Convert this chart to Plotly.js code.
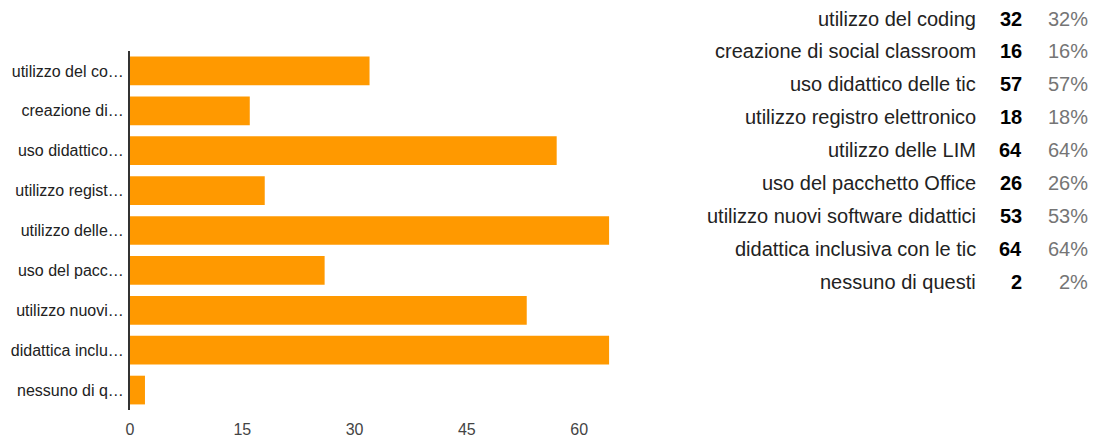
<!DOCTYPE html>
<html><head><meta charset="utf-8">
<script src="https://cdn.plot.ly/plotly-3.0.1.min.js"></script>
<style>body{margin:0;padding:0;background:#fff}#chart{width:1093px;height:441px}</style>
</head><body><div id="chart"></div>
<script>
const categories = ["utilizzo del coding","creazione di social classroom","uso didattico delle tic","utilizzo registro elettronico","utilizzo delle LIM","uso del pacchetto Office","utilizzo nuovi software didattici","didattica inclusiva con le tic","nessuno di questi"];
const tickLabels = ["utilizzo del co…","creazione di…","uso didattico…","utilizzo regist…","utilizzo delle…","uso del pacc…","utilizzo nuovi…","didattica inclu…","nessuno di q…"];
const counts = [32,16,57,18,64,26,53,64,2];
const percents = ["32%","16%","57%","18%","64%","26%","53%","64%","2%"];
const xTicks = [0,15,30,45,60];

const W=1093,H=441,L=130,T=50.5,B=30.5,R=439.4;
const plotW=W-L-R, plotH=H-T-B;
const px2x = p => (p-L)/plotW;
const py2y = p => 1-(p-T)/plotH;
const FAM = "Arial, Liberation Sans, sans-serif";

const ann=[];
categories.forEach((c,i)=>{
  const yp = py2y(18+33*i);
  const f = {family:FAM, size:20};
  ann.push({xref:'paper',yref:'paper',x:px2x(977),y:yp,text:c,showarrow:false,xanchor:'right',yanchor:'middle',font:Object.assign({},f,{color:'#222'})});
  ann.push({xref:'paper',yref:'paper',x:px2x(1023),y:yp,text:'<b>'+counts[i]+'</b>',showarrow:false,xanchor:'right',yanchor:'middle',font:Object.assign({},f,{color:'#000'})});
  ann.push({xref:'paper',yref:'paper',x:px2x(1089),y:yp,text:percents[i],showarrow:false,xanchor:'right',yanchor:'middle',font:Object.assign({},f,{color:'#757575'})});
});

Plotly.newPlot('chart',[{
  type:'bar',orientation:'h',y:categories,x:counts,
  marker:{color:'#ff9900'},width:0.72,hoverinfo:'none'
}],{
  width:W,height:H,margin:{l:L,r:R,t:T,b:B,pad:0},
  paper_bgcolor:'#fff',plot_bgcolor:'#fff',
  font:{family:FAM,size:16,color:'#444'},
  showlegend:false,
  xaxis:{range:[0,70],tickvals:xTicks,showgrid:false,zeroline:false,showline:false,ticks:'',
    ticklabelstandoff:8,tickfont:{size:16,color:'#444'},fixedrange:true},
  yaxis:{type:'category',autorange:'reversed',tickvals:categories,ticktext:tickLabels,
    showgrid:false,zeroline:false,showline:true,linecolor:'#333',linewidth:2,ticks:'',
    ticklabelstandoff:1,tickfont:{size:16,color:'#222'},fixedrange:true},
  annotations:ann
},{displayModeBar:false,staticPlot:true});
</script></body></html>
